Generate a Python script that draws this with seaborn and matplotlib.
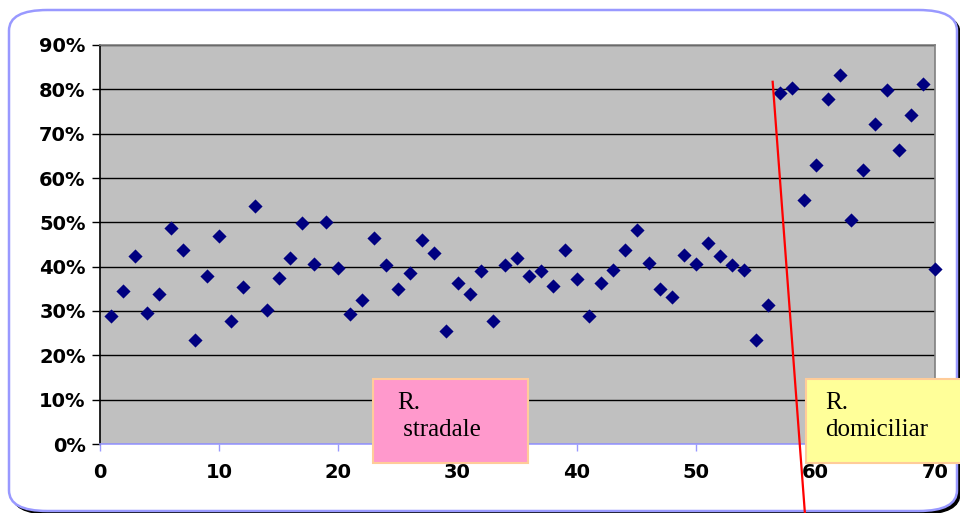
import numpy as np
import pandas as pd
import matplotlib
matplotlib.use('Agg')
import matplotlib.pyplot as plt
import seaborn as sns
from matplotlib.patches import FancyBboxPatch, Rectangle
from matplotlib.ticker import PercentFormatter

# date
index = list(range(1, 71))
share = [
    28.9, 34.5, 42.4, 29.5, 33.8, 48.7, 43.8, 23.5, 37.9, 46.9,
    27.7, 35.4, 53.7, 30.2, 37.4, 42.0, 49.9, 40.6, 50.1, 39.7,
    29.3, 32.5, 46.5, 40.4, 35.0, 38.6, 46.0, 43.1, 25.5, 36.3,
    33.8, 39.0, 27.7, 40.4, 42.0, 37.9, 39.0, 35.6, 43.8, 37.2,
    28.9, 36.3, 39.3, 43.8, 48.3, 40.8, 35.0, 33.2, 42.6, 40.6,
    45.3, 42.4, 40.4, 39.3, 23.5, 31.4, 79.2, 80.3, 55.0, 62.9,
    77.8, 83.2, 50.5, 61.8, 72.2, 79.9, 66.3, 74.2, 81.2, 39.5,
]
split_line_x = [56.4, 59.1]
split_line_y = [81.7, -15.6]
label_left = 'R.\n stradale'
label_right = 'R.\ndomiciliar'

W, H = 960, 513
df = pd.DataFrame({'idx': index, 'share': share})

fig = plt.figure(figsize=(W / 100, H / 100), dpi=100)
fig.patch.set_facecolor('white')


def fx(px):
    return px / W


def fy(py):
    return 1 - py / H


# chenar rotunjit cu umbra
shadow = FancyBboxPatch((fx(12), fy(514)), fx(948), (511 - 10) / H,
                        boxstyle='round,pad=0,rounding_size=0.04',
                        transform=fig.transFigure, fc='black', ec='black', lw=1, zorder=-3)
frame = FancyBboxPatch((fx(9), fy(511)), fx(948), (511 - 10) / H,
                       boxstyle='round,pad=0,rounding_size=0.04',
                       transform=fig.transFigure, fc='white', ec='#9999ff', lw=1.8, zorder=-2)
fig.add_artist(shadow)
fig.add_artist(frame)

ax = fig.add_axes([fx(99.5), fy(444), fx(935 - 99.5), (444 - 45) / H])
ax.set_facecolor('#c0c0c0')

sns.scatterplot(data=df, x='idx', y='share', marker='D', s=52, color='#000080',
                edgecolor='#000080', linewidth=0, ax=ax, zorder=3, clip_on=False)

ax.set_xlim(0, 70)
ax.set_ylim(0, 90)
ax.set_xticks(range(0, 71, 10))
ax.set_yticks(range(0, 91, 10))
ax.yaxis.set_major_formatter(PercentFormatter(decimals=0))
ax.grid(axis='y', color='black', lw=1)
ax.set_axisbelow(True)
ax.set_xlabel('')
ax.set_ylabel('')

for lab in ax.get_xticklabels() + ax.get_yticklabels():
    lab.set_fontweight('bold')
    lab.set_fontsize(14)
    lab.set_family('DejaVu Sans')

ax.tick_params(axis='y', direction='out', length=6, width=1, color='black', pad=4)
ax.tick_params(axis='x', direction='out', length=5, width=1, color='#9999ff', pad=9)
ax.spines['left'].set_color('black')
ax.spines['bottom'].set_color('#9999ff')
ax.spines['top'].set_color('#808080')
ax.spines['right'].set_color('#808080')
for s in ax.spines.values():
    s.set_linewidth(1.2)

# linia rosie
ax.plot(split_line_x, split_line_y, color='red', lw=1.6, clip_on=False, zorder=5)

# casetele de text
box1 = Rectangle((fx(373), fy(463)), fx(528 - 373), (463 - 379) / H, transform=fig.transFigure,
                 fc='#ff99cc', ec='#ffcc99', lw=1.5, zorder=6)
box2 = Rectangle((fx(806), fy(463)), fx(160), (463 - 379) / H, transform=fig.transFigure,
                 fc='#ffff99', ec='#ffcc99', lw=1.5, zorder=6)
fig.add_artist(box1)
fig.add_artist(box2)
fig.text(fx(397), fy(392), label_left, family='Liberation Serif', fontsize=18,
         va='top', ha='left', linespacing=1.3, zorder=7)
fig.text(fx(825), fy(392), label_right, family='Liberation Serif', fontsize=18,
         va='top', ha='left', linespacing=1.3, zorder=7)

fig.savefig('out.png', dpi=100)
